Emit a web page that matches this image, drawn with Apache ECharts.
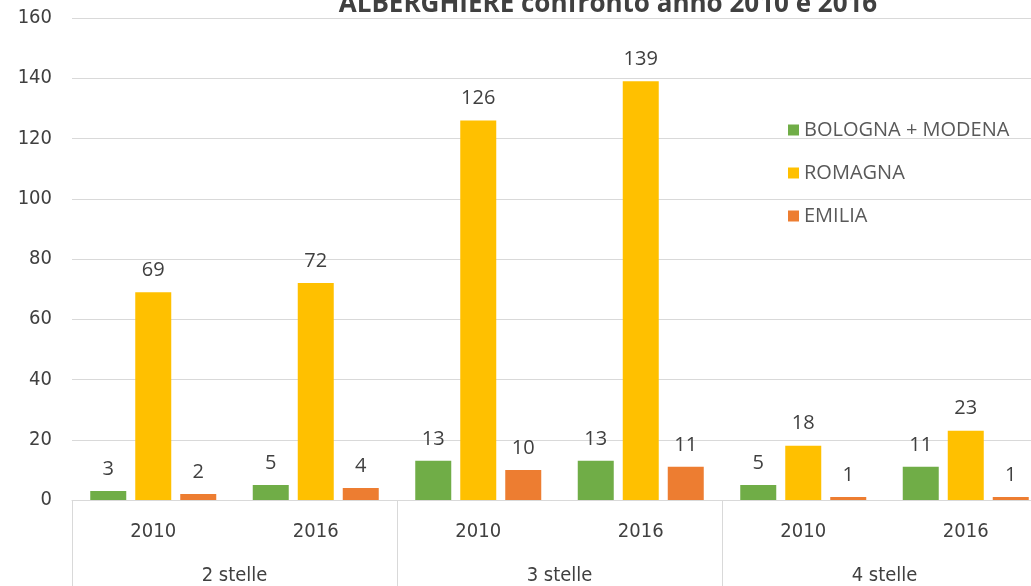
<!DOCTYPE html>
<html>
<head>
<meta charset="utf-8">
<script src="https://cdn.jsdelivr.net/npm/echarts@6/dist/echarts.min.js"></script>
<style>html,body{margin:0;padding:0;background:#fff}#c{width:1031px;height:586px}</style>
</head>
<body>
<div id="c"></div>
<script>
var years = ['2010', '2016', '2010', '2016', '2010', '2016'];
var groups = ['2 stelle', '3 stelle', '4 stelle'];
var seriesNames = ['BOLOGNA + MODENA', 'ROMAGNA', 'EMILIA'];
var bolognaModena = [3, 5, 13, 13, 5, 11];
var romagna = [69, 72, 126, 139, 18, 23];
var emilia = [2, 4, 10, 11, 1, 1];
var colors = ['#70AD47', '#FFC000', '#ED7D31'];
var titleText = 'ALBERGHIERE confronto anno 2010 e 2016';

var FONT = '"Liberation Sans Narrow", "DejaVu Sans Condensed", "Liberation Sans", sans-serif';
var FONT2 = '"Open Sans", "Liberation Sans", sans-serif';

function mk(name, data, color) {
  return {
    name: name, type: 'bar', data: data, barWidth: 36, barGap: '25%',
    itemStyle: { color: color },
    label: { show: true, position: 'top', distance: 12, color: '#404040', fontSize: 20, fontFamily: FONT2 },
    xAxisIndex: 0
  };
}

var chart = echarts.init(document.getElementById('c'), null, { renderer: 'canvas' });
chart.setOption({
  animation: false,
  title: { text: titleText, left: 603, textAlign: 'center', top: -13,
    textStyle: { fontSize: 26, fontWeight: 'bold', color: '#404040', fontFamily: FONT2 } },
  legend: {
    orient: 'vertical', left: 783, top: 115, itemGap: 23, itemWidth: 11, itemHeight: 11,
    icon: 'rect', textStyle: { fontSize: 20, color: '#595959', fontFamily: FONT2 },
    data: seriesNames
  },
  grid: { left: 72, width: 975, top: 18, bottom: 86, containLabel: false, outerBoundsMode: 'none' },
  xAxis: [{
    type: 'category', data: years, position: 'bottom',
    axisLine: { show: true, lineStyle: { color: '#d9d9d9', width: 1 } },
    axisTick: { show: false },
    axisLabel: { margin: 22, fontSize: 20, color: '#404040', fontFamily: FONT }
  }, {
    type: 'category', data: groups, position: 'bottom',
    axisLine: { show: false },
    axisTick: { show: true, length: 86, interval: 0, lineStyle: { color: '#d9d9d9', width: 1 } },
    axisLabel: { margin: 66, fontSize: 20, color: '#404040', fontFamily: FONT }
  }],
  yAxis: {
    type: 'value', min: 0, max: 160, interval: 20,
    axisLine: { show: false }, axisTick: { show: false },
    splitLine: { lineStyle: { color: '#d9d9d9', width: 1 } },
    axisLabel: { margin: 20, fontSize: 20, color: '#404040', fontFamily: FONT }
  },
  series: [mk(seriesNames[0], bolognaModena, colors[0]), mk(seriesNames[1], romagna, colors[1]), mk(seriesNames[2], emilia, colors[2])]
});
</script>
</body>
</html>
